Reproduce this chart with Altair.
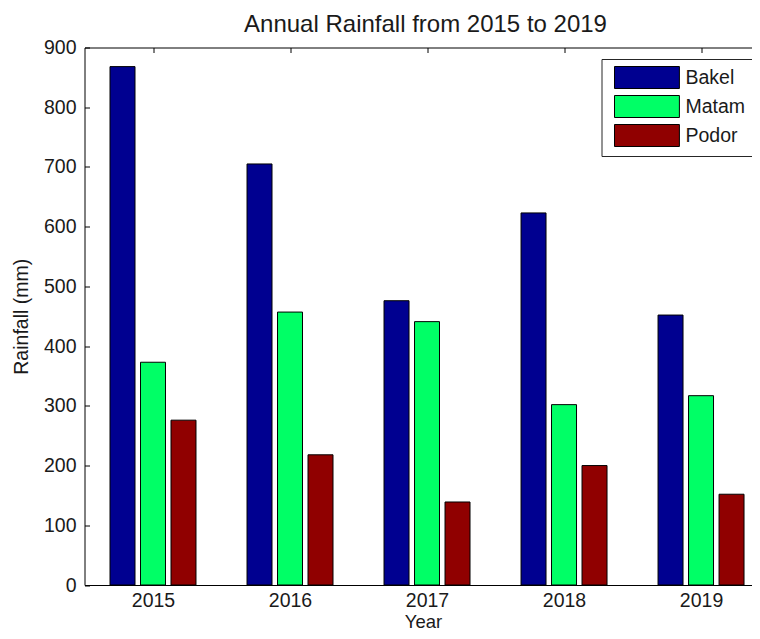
import json
import altair as alt
import pandas as pd

years = ["2015", "2016", "2017", "2018", "2019"]
stations = ["Bakel", "Matam", "Podor"]
bakel = [868, 705, 476, 623, 452]
matam = [373, 457, 441, 302, 317]
podor = [276, 218, 139, 200, 152]
colors = ["#000090", "#00FF66", "#900000"]
yticks = [0, 100, 200, 300, 400, 500, 600, 700, 800, 900]
xticks = [1, 2, 3, 4, 5]
title_text = "Annual Rainfall from 2015 to 2019"

rows = []
for si, (s, vals) in enumerate(zip(stations, [bakel, matam, podor])):
    for yi, (y, v) in enumerate(zip(years, vals)):
        rows.append({"Year": y, "yi": yi + 1, "Station": s, "si": si,
                     "Rainfall": v})
df = pd.DataFrame(rows)

FONT = "Liberation Sans"
TXT = "#1a1a1a"
FS = 19.5
XDOM = [0.5, 5.372]
YDOM = [0, 900]
label_expr = json.dumps(years) + "[datum.value - 1]"

xscale = alt.Scale(domain=XDOM, nice=False, zero=False, padding=0)
yscale = alt.Scale(domain=YDOM, nice=False, zero=False, padding=0)

bars = alt.Chart(df).transform_calculate(
    xc="datum.yi + (datum.si - 1) * 0.2226"
).transform_calculate(
    xa="datum.xc - 0.0912", xb="datum.xc + 0.0912"
).mark_bar(stroke="black", strokeWidth=1, opacity=1).encode(
    x=alt.X(
        "xa:Q", scale=xscale,
        axis=alt.Axis(
            title="Year", orient="bottom", values=xticks, labelExpr=label_expr,
            labelAngle=0, ticks=False, tickSize=0, labelPadding=21,
            labelBaseline="alphabetic", labelFontSize=FS, labelFont=FONT,
            labelColor=TXT, labelFlush=False, titleFont=FONT,
            titleFontSize=18.5, titleFontWeight="normal", titleColor=TXT,
            titleY=42, titleBaseline="alphabetic", titleX=338.5,
            domainColor="black", grid=False,
        ),
    ),
    x2="xb:Q",
    y=alt.Y(
        "Rainfall:Q", scale=yscale,
        axis=alt.Axis(
            title="Rainfall (mm)", values=yticks, ticks=False, tickSize=0,
            labelPadding=8.5, labelFontSize=FS, labelFont=FONT, labelColor=TXT,
            titleFont=FONT, titleFontSize=FS, titleFontWeight="normal",
            titleColor=TXT, titleX=-57, titleY=268.75, titleAngle=270,
            titleBaseline="alphabetic", titleAlign="center", domainColor="black",
            grid=False,
        ),
    ),
    y2=alt.datum(0),
    color=alt.Color(
        "Station:N", sort=stations,
        scale=alt.Scale(domain=stations, range=colors),
        legend=alt.Legend(
            title=None, orient="none", legendX=517, legendY=11.5,
            direction="vertical", fillColor="white", strokeColor="#262626",
            padding=7, symbolType="M-0.5,-1H5.4V1H-0.5Z", symbolSize=484,
            symbolStrokeColor="black", symbolStrokeWidth=1, symbolOpacity=1,
            labelFont=FONT, labelFontSize=FS, labelColor=TXT, labelOffset=54,
            rowPadding=2, labelLimit=200,
        ),
    ),
)

# inward ticks on top and left
tick_layer = alt.Chart(df).mark_bar(opacity=0).encode(
    x=alt.X(
        "yi:Q", scale=xscale,
        axis=alt.Axis(orient="top", offset=-5, values=xticks, labels=False,
                      domain=False, ticks=True, tickSize=5, tickColor="black",
                      title=None, grid=False),
    ),
    y=alt.Y(
        "Rainfall:Q", scale=yscale,
        axis=alt.Axis(orient="left", offset=-5, labels=False, domain=False,
                      ticks=True, tickSize=5, tickColor="black", values=yticks,
                      title=None, grid=False),
    ),
)

# top border line and chart title
top_layer = alt.Chart(df).mark_bar(opacity=0).encode(
    x=alt.X(
        "yi:Q", scale=xscale,
        axis=alt.Axis(orient="top", labels=False, ticks=False, domain=True,
                      domainColor="black", grid=False, title=title_text,
                      titleFont=FONT, titleFontSize=24,
                      titleFontWeight="normal", titleColor=TXT,
                      titleX=340.5, titleY=-15.8, titleAngle=0,
                      titleAlign="center", titleBaseline="alphabetic"),
    ),
    y=alt.Y("Rainfall:Q", scale=yscale, axis=None),
)

chart = alt.layer(bars, tick_layer, top_layer).resolve_axis(
    x="independent", y="independent"
).properties(
    width=667.5,
    height=537.5,
    padding={"left": 76.5, "top": 39.5, "right": 0, "bottom": 46},
    autosize=alt.AutoSizeParams(type="none"),
    background="white",
).configure_view(stroke=None)

chart.save("out.html", embed_options={"renderer": "svg", "actions": False})
